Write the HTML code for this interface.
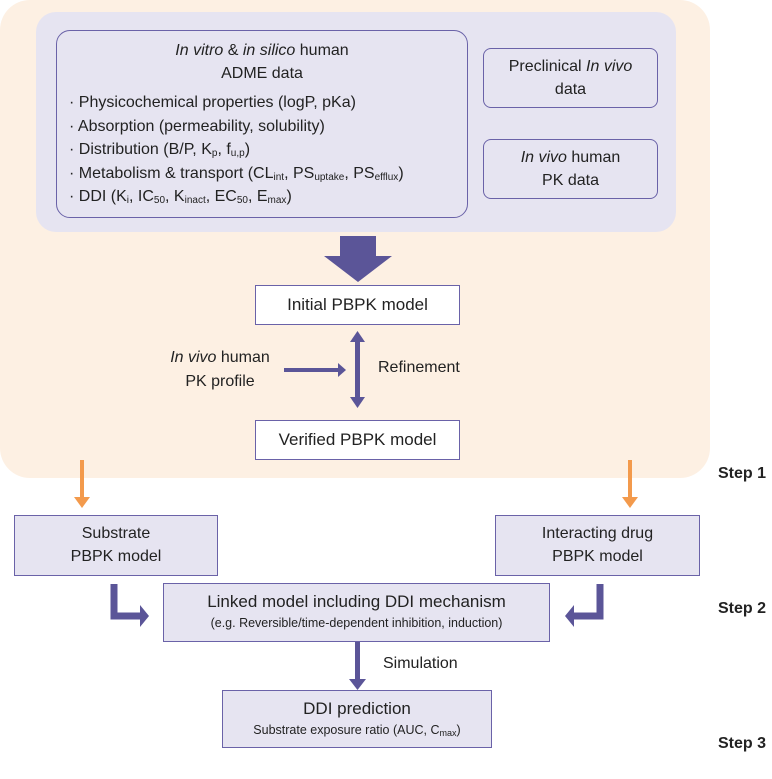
<!DOCTYPE html>
<html><head><meta charset="utf-8"><style>
body{margin:0;width:772px;height:779px;background:#fff;position:relative;font-family:"Liberation Sans",sans-serif;color:#222;overflow:hidden}
.a{position:absolute}
.bx{position:absolute;box-sizing:border-box;border:1.5px solid #6a62a8;text-align:center}
sub{font-size:10px;vertical-align:-2px;line-height:0}
i{font-style:italic}
</style></head><body>
<div class="a" style="left:0;top:0;width:710px;height:478px;background:#fdf0e3;border-radius:30px"></div>
<div class="a" style="left:36px;top:12px;width:640px;height:220px;background:#e6e4f1;border-radius:20px"></div>
<div class="bx" style="left:56px;top:30px;width:412px;height:188px;border-radius:14px;font-size:16px;line-height:23px;padding-top:8px">
<div><i>In vitro</i> &amp; <i>in silico</i> human</div><div>ADME data</div>
<div style="text-align:left;padding-left:12px;line-height:23.5px;margin-top:6px">
· Physicochemical properties (logP, pKa)<br>· Absorption (permeability, solubility)<br>· Distribution (B/P, K<sub>p</sub>, f<sub>u,p</sub>)<br>· Metabolism &amp; transport (CL<sub>int</sub>, PS<sub>uptake</sub>, PS<sub>efflux</sub>)<br>· DDI (K<sub>i</sub>, IC<sub>50</sub>, K<sub>inact</sub>, EC<sub>50</sub>, E<sub>max</sub>)</div></div>
<div class="bx" style="left:483px;top:48px;width:175px;height:60px;border-radius:8px;font-size:16px;line-height:23px;padding-top:6px">Preclinical <i>In vivo</i><br>data</div>
<div class="bx" style="left:483px;top:139px;width:175px;height:60px;border-radius:8px;font-size:16px;line-height:23px;padding-top:6px"><i>In vivo</i> human<br>PK data</div>
<svg class="a" style="left:0;top:0" width="772" height="779">
<g fill="#5b5598">
<polygon points="340,236 376,236 376,256 392,256 358,282 324,256 340,256"/>
<rect x="355" y="340" width="5" height="60"/>
<polygon points="350,342 357.5,331 365,342"/><polygon points="350,397 357.5,408 365,397"/>
<rect x="284" y="368" width="56" height="4"/><polygon points="338,363 346,370 338,377"/>
<path d="M114,584 V616 H140" fill="none" stroke="#5b5598" stroke-width="7"/>
<polygon points="140,605 149,616 140,627"/>
<path d="M600,584 V616 H574" fill="none" stroke="#5b5598" stroke-width="7"/>
<polygon points="574,605 565,616 574,627"/>
<rect x="355" y="642" width="5" height="38"/><polygon points="349,679 357.5,690 366,679"/>
</g>
<g fill="#f39a4c">
<rect x="80" y="460" width="4" height="38"/><polygon points="74,497 82,508 90,497"/>
<rect x="628" y="460" width="4" height="38"/><polygon points="622,497 630,508 638,497"/>
</g>
</svg>
<div class="bx" style="left:255px;top:285px;width:205px;height:40px;background:#fff;font-size:17px;line-height:37px">Initial PBPK model</div>
<div class="bx" style="left:255px;top:420px;width:205px;height:40px;background:#fff;font-size:17px;line-height:37px">Verified PBPK model</div>
<div class="a" style="left:150px;top:346px;width:140px;text-align:center;font-size:16px;line-height:24px"><i>In vivo</i> human<br>PK profile</div>
<div class="a" style="left:378px;top:359px;font-size:16px">Refinement</div>
<div class="bx" style="left:14px;top:515px;width:204px;height:61px;background:#e6e4f1;font-size:16px;line-height:23px;padding-top:6px">Substrate<br>PBPK model</div>
<div class="bx" style="left:495px;top:515px;width:205px;height:61px;background:#e6e4f1;font-size:16px;line-height:23px;padding-top:6px">Interacting drug<br>PBPK model</div>
<div class="bx" style="left:163px;top:583px;width:387px;height:59px;background:#e6e4f1;padding-top:6px"><div style="font-size:17px;line-height:24px">Linked model including DDI mechanism</div><div style="font-size:12.5px;line-height:18px">(e.g. Reversible/time-dependent inhibition, induction)</div></div>
<div class="a" style="left:383px;top:655px;font-size:16px">Simulation</div>
<div class="bx" style="left:222px;top:690px;width:270px;height:58px;background:#e6e4f1;padding-top:6px"><div style="font-size:17px;line-height:24px">DDI prediction</div><div style="font-size:12.5px;line-height:18px">Substrate exposure ratio (AUC, C<sub style="font-size:9px">max</sub>)</div></div>
<div class="a" style="left:718px;top:465px;font-size:16px;font-weight:bold">Step 1</div>
<div class="a" style="left:718px;top:600px;font-size:16px;font-weight:bold">Step 2</div>
<div class="a" style="left:718px;top:735px;font-size:16px;font-weight:bold">Step 3</div>
</body></html>
